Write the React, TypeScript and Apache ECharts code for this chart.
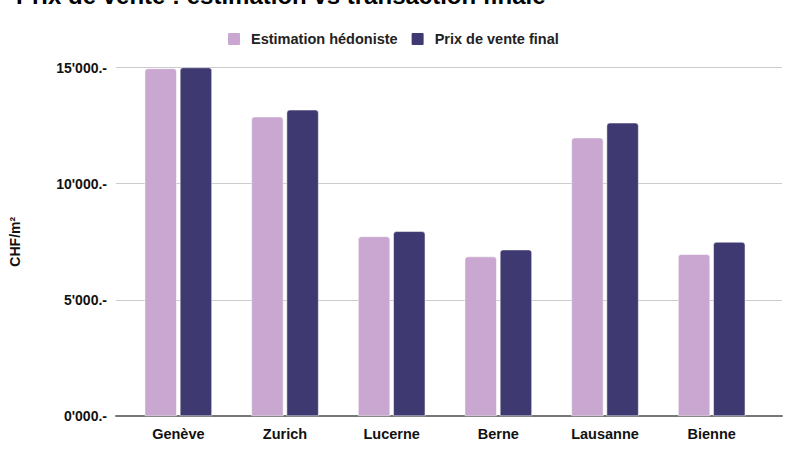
import React, { useEffect, useRef } from "react";
import * as echarts from "echarts";

const categories = ["Genève", "Zurich", "Lucerne", "Berne", "Lausanne", "Bienne"];
const estimation = [14960, 12880, 7730, 6860, 11980, 6960];
const prixFinal = [15000, 13180, 7950, 7160, 12620, 7490];
const seriesNames = ["Estimation hédoniste", "Prix de vente final"];
const yTicks = { min: 0, max: 15000, interval: 5000 };
const titleText = "Prix de vente : estimation vs transaction finale";
const yAxisName = "CHF/m²";

const FONT = "'Liberation Sans', Arial, Helvetica, sans-serif";
const SQUARE =
  "path://M2,0h10a2,2 0 0 1 2,2v10a2,2 0 0 1 -2,2h-10a2,2 0 0 1 -2,-2v-10a2,2 0 0 1 2,-2z";

function fmt(v: number): string {
  const th = Math.floor(v / 1000);
  const rest = String(v % 1000).padStart(3, "0");
  return `${th}'${rest}.-`;
}

export default function App() {
  const ref = useRef<HTMLDivElement>(null);
  useEffect(() => {
    if (!ref.current) return;
    const chart = echarts.init(ref.current, undefined, { renderer: "svg" });
    const gridPos = { top: 67.5, bottom: 37 };
    chart.setOption({
      animation: false,
      backgroundColor: "#ffffff",
      textStyle: { fontFamily: FONT },
      title: {
        text: titleText,
        left: 16,
        top: -17,
        padding: 0,
        textStyle: { fontFamily: FONT, fontSize: 24, fontWeight: "bold", color: "#000000" },
      },
      legend: {
        left: 221,
        top: 26,
        itemWidth: 24,
        itemHeight: 14,
        itemGap: 12,
        icon: SQUARE,
        symbolKeepAspect: true,
        textStyle: { fontFamily: FONT, fontSize: 14.5, fontWeight: "bold", color: "#222222" },
        data: seriesNames,
      },
      grid: [
        { left: 125, right: 20, ...gridPos, containLabel: false },
        { left: 107, right: 3, ...gridPos, containLabel: false },
      ],
      xAxis: [
        {
          type: "category",
          gridIndex: 0,
          data: categories,
          axisTick: { show: false },
          axisLine: { show: false },
          axisLabel: { fontFamily: FONT, fontSize: 14.5, fontWeight: "bold", color: "#111111", margin: 10 },
        },
        {
          type: "value",
          gridIndex: 1,
          min: 0,
          max: 1,
          axisTick: { show: false },
          axisLabel: { show: false },
          splitLine: { show: false },
          axisLine: { show: true, lineStyle: { color: "#777777", width: 2 } },
        },
      ],
      yAxis: [
        {
          type: "value",
          gridIndex: 0,
          min: yTicks.min,
          max: yTicks.max,
          interval: yTicks.interval,
          axisLine: { show: false },
          axisTick: { show: false },
          axisLabel: { show: false },
          splitLine: { show: false },
        },
        {
          type: "value",
          gridIndex: 1,
          min: yTicks.min,
          max: yTicks.max,
          interval: yTicks.interval,
          name: yAxisName,
          nameLocation: "middle",
          nameGap: 94,
          nameRotate: 90,
          nameTextStyle: { fontFamily: FONT, fontSize: 14, fontWeight: "bold", color: "#111111" },
          axisLine: { show: false },
          axisTick: { show: false },
          splitLine: { lineStyle: { color: "#cccccc", width: 1 } },
          axisLabel: {
            fontFamily: FONT,
            fontSize: 14,
            fontWeight: "bold",
            color: "#111111",
            margin: 9,
            formatter: (v: number) => fmt(v),
          },
        },
      ],
      series: [
        {
          name: seriesNames[0],
          type: "bar",
          xAxisIndex: 0,
          yAxisIndex: 0,
          data: estimation,
          barWidth: 32,
          barGap: "10%",
          itemStyle: { color: "#c9a7d0", borderRadius: [3, 3, 0, 0], borderColor: "#ffffff", borderWidth: 0.5 },
        },
        {
          name: seriesNames[1],
          type: "bar",
          xAxisIndex: 0,
          yAxisIndex: 0,
          data: prixFinal,
          barWidth: 32,
          barGap: "10%",
          itemStyle: { color: "#3e3a71", borderRadius: [3, 3, 0, 0], borderColor: "#ffffff", borderWidth: 0.5 },
        },
      ],
    });
    return () => chart.dispose();
  }, []);
  return (
    <div
      ref={ref}
      style={{ position: "fixed", left: 0, top: 0, width: 785, height: 453 }}
    />
  );
}
